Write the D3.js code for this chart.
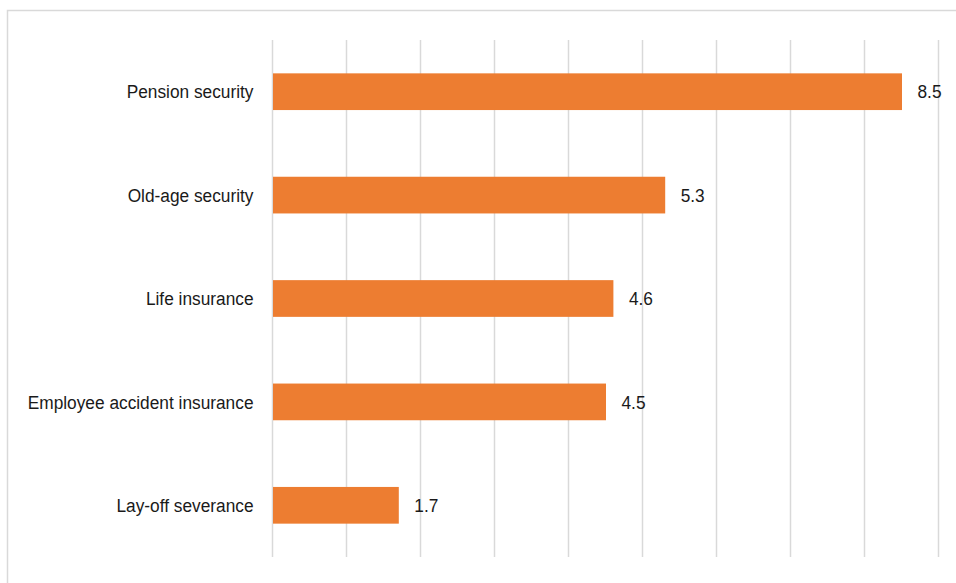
<!DOCTYPE html>
<html>
<head>
<meta charset="utf-8">
<script src="https://cdn.jsdelivr.net/npm/d3@7"></script>
<style>
  html, body { margin: 0; padding: 0; background: #fff; }
  svg { display: block; }
  text { font-family: "Liberation Sans", Arial, sans-serif; fill: #1a1a1a; font-size: 19px; }
</style>
</head>
<body>
<svg id="chart" width="956" height="583"></svg>
<script>
// Benefit categories and their values (top to bottom)
const categories = ["Pension security", "Old-age security", "Life insurance", "Employee accident insurance", "Lay-off severance"];
const values = [8.5, 5.3, 4.6, 4.5, 1.7];
const gridTicks = [0, 1, 2, 3, 4, 5, 6, 7, 8, 9];

const svg = d3.select("#chart");
const W = 956, H = 583;
const margin = { left: 272.5, right: 17.5, top: 40, bottom: 26 };
const squeeze = 0.91; // condensed label type

// outer frame
svg.append("rect")
  .attr("x", 7.5).attr("y", 10.5)
  .attr("width", 980).attr("height", 600)
  .attr("fill", "none")
  .attr("stroke", "#d9d9d9")
  .attr("stroke-width", 1.5);

const x = d3.scaleLinear().domain([0, 9]).range([margin.left, W - margin.right]);
const y = d3.scaleBand().domain(categories)
  .range([margin.top, H - margin.bottom])
  .paddingInner(0.645).paddingOuter(0.3225);

// vertical gridlines
svg.append("g")
  .selectAll("line")
  .data(gridTicks)
  .join("line")
  .attr("x1", d => x(d)).attr("x2", d => x(d))
  .attr("y1", margin.top).attr("y2", H - margin.bottom)
  .attr("stroke", "#d9d9d9")
  .attr("stroke-width", 1.5);

// bars
svg.append("g")
  .selectAll("rect")
  .data(values)
  .join("rect")
  .attr("x", x(0) + 0.5)
  .attr("y", (d, i) => y(categories[i]))
  .attr("width", d => x(d) - x(0))
  .attr("height", y.bandwidth())
  .attr("fill", "#ed7d31");

// category labels
svg.append("g")
  .selectAll("g")
  .data(categories)
  .join("g")
  .attr("transform", d => `translate(${margin.left - 19},${y(d) + y.bandwidth() / 2}) scale(${squeeze},1)`)
  .append("text")
  .attr("text-anchor", "end")
  .attr("dy", "0.35em")
  .text(d => d);

// value labels
svg.append("g")
  .selectAll("g")
  .data(values)
  .join("g")
  .attr("transform", (d, i) => `translate(${x(d) + 16},${y(categories[i]) + y.bandwidth() / 2}) scale(${squeeze},1)`)
  .append("text")
  .attr("dy", "0.35em")
  .text(d => d.toFixed(1));
</script>
</body>
</html>
